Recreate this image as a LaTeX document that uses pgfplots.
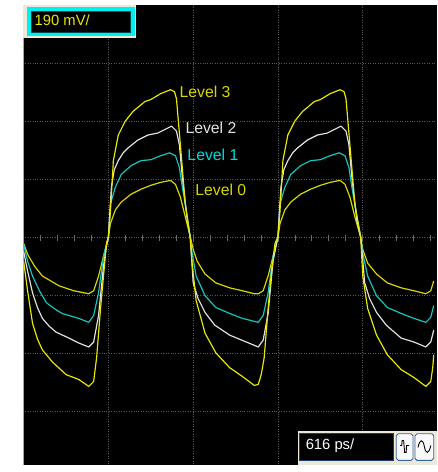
\documentclass[border=0pt]{standalone}
\usepackage{pgfplots}
\pgfplotsset{compat=1.18}
\usepackage{fontspec}
\setmainfont{Liberation Sans}
\definecolor{scy}{HTML}{E8E800}
\definecolor{scy0}{HTML}{D8D800}
\definecolor{scw}{HTML}{E2E2E2}
\definecolor{scc}{HTML}{10C8C0}
\definecolor{lcy}{HTML}{D6D600}
\definecolor{lcc}{HTML}{00DCDC}
\definecolor{beige}{HTML}{ECE9D8}
\definecolor{navy}{HTML}{1C3C78}
\definecolor{btnb}{HTML}{3A64A8}
\definecolor{gridc}{HTML}{5A5A5A}
\definecolor{brcyan}{HTML}{00F0F0}
\begin{document}
\begin{tikzpicture}
\fill[white] (-23bp,0) rectangle (420bp,472bp);
\begin{axis}[name=ax, at={(0,0)}, anchor=south west, scale only axis,
  width=420bp, height=467bp, xmin=23, xmax=443, ymin=5, ymax=472, y dir=reverse,
  axis line style={draw=none}, xtick={110,196,282,368},
  ytick={64.6,123.3,182,299.7,358.4,417}, xticklabels={}, yticklabels={},
  major tick length=0pt, grid=major,
  major grid style={color=gridc, line width=0.8bp, dash pattern=on 1bp off 1.5bp},
  axis background/.style={fill=black}, clip=false,
  every axis plot/.append style={line width=1.2bp, line join=round}]
% center line with ticks
\draw[gridc, line width=0.8bp, dash pattern=on 1bp off 1.5bp] (axis cs:23,241) -- (axis cs:443,241);
\pgfplotsinvokeforeach{0,...,24}{\draw[gridc!90!white, line width=0.8bp] (axis cs:{24+17.2*#1},238) -- (axis cs:{24+17.2*#1},244);}
\draw[gray!70, line width=1bp] (axis cs:23.5,5) -- (axis cs:23.5,472);
% Level 0
\addplot[scy0] coordinates {(24,247) (28,258) (35,270) (43,280) (60,290) (75,295) (90,298) (95,295) (100,280) (105,260) (110,241)
 (112,227) (117,213) (123,205) (133,197) (143,192) (153,188) (163,185) (173,183) (178,187) (183,200) (188,220) (193,240)
 (196,253) (200,265) (208,278) (219,287) (233,292) (246,295) (258,298) (262,298) (267,295) (272,280) (277,260) (282,241)
 (284,227) (289,213) (295,205) (305,197) (315,192) (325,188) (335,185) (345,183) (350,187) (355,200) (360,220) (366,241)
 (368,253) (373,267) (382,278) (393,287) (407,292) (420,295) (432,298) (437,295) (440,285)};
% Level 1
\addplot[scc] coordinates {(24,248) (28,265) (33,280) (40,295) (47,307) (55,313) (63,318) (80,323) (90,327) (95,320) (100,297) (105,260) (108,248) (110,240)
 (112,207) (117,190) (123,177) (133,168) (143,163) (153,162) (163,158) (172,155) (178,158) (182,170) (185,190) (190,220) (193,241)
 (195,257) (199,280) (208,300) (219,312) (233,318) (246,323) (262,327) (267,320) (272,297) (277,260) (280,248) (282,240)
 (284,207) (289,190) (295,177) (305,168) (315,163) (325,162) (335,158) (344,155) (350,158) (354,170) (357,190) (362,220) (366,241)
 (368,257) (373,280) (382,300) (393,312) (407,318) (420,323) (432,327) (437,322) (440,310)};
% Level 2
\addplot[scw] coordinates {(24,255) (28,275) (33,297) (38,312) (43,323) (50,331) (57,337) (70,343) (80,348) (90,352) (95,347) (100,320) (105,270) (108,250) (110,240)
 (113,190) (116,172) (120,163) (125,155) (130,150) (140,142) (150,137) (160,135) (170,130) (174,128) (179,133) (182,147) (185,180) (190,223) (193,241)
 (196,287) (201,303) (208,317) (218,330) (233,340) (250,347) (262,352) (267,345) (272,318) (277,265) (280,250) (282,240)
 (285,190) (288,172) (292,163) (297,155) (302,150) (312,142) (322,137) (332,135) (342,130) (346,128) (351,133) (354,147) (357,180) (362,223) (366,241)
 (370,287) (375,303) (382,317) (392,330) (407,343) (420,347) (432,352) (437,347) (440,335)};
% Level 3
\addplot[scy] coordinates {(24,265) (28,295) (33,328) (38,344) (43,355) (53,367) (67,380) (80,385) (90,392) (95,387) (98,363) (102,313) (105,280) (108,247) (110,240)
 (112,215) (115,163) (120,137) (127,123) (135,113) (147,103) (153,101) (163,95) (173,91) (177,93) (179,100) (183,147) (188,207) (193,241)
 (195,268) (199,305) (208,338) (219,358) (233,373) (246,382) (258,391) (262,390) (265,380) (268,363) (272,313) (275,280) (279,247) (282,240)
 (284,215) (287,163) (292,137) (299,123) (307,113) (319,103) (325,101) (335,95) (345,91) (349,93) (351,100) (355,147) (360,207) (366,241)
 (368,280) (373,313) (382,340) (393,360) (407,375) (420,383) (432,392) (437,387) (439,373) (440,360)};
% labels
\node[anchor=west, inner sep=0pt, text=lcy, font=\fontsize{16bp}{19bp}\selectfont] at (axis cs:182,93) {Level 3};
\node[anchor=west, inner sep=0pt, text=scw, font=\fontsize{16bp}{19bp}\selectfont] at (axis cs:188,130) {Level 2};
\node[anchor=west, inner sep=0pt, text=lcc, font=\fontsize{16bp}{19bp}\selectfont] at (axis cs:190,157) {Level 1};
\node[anchor=west, inner sep=0pt, text=lcy, font=\fontsize{16bp}{19bp}\selectfont] at (axis cs:198,193) {Level 0};
% top-left scale box
\fill[beige] (axis cs:23,5) rectangle (axis cs:138,39);
\fill[brcyan] (axis cs:27,7) rectangle (axis cs:137,37);
\fill[teal!60!black] (axis cs:31,11) rectangle (axis cs:133,33);
\fill[black] (axis cs:32,12) rectangle (axis cs:132,32);
\node[anchor=west, inner sep=0pt, text=scy, font=\fontsize{15bp}{18bp}\selectfont] at (axis cs:35,21) {190 mV/};
% bottom panel
\fill[beige] (axis cs:302,437) rectangle (axis cs:443,472);
\fill[black] (axis cs:303,439) rectangle (axis cs:400,468);
\draw[navy, line width=1.2bp] (axis cs:303.5,439.5) rectangle (axis cs:399.5,467.5);
\node[anchor=west, inner sep=0pt, text=white, font=\fontsize{15bp}{18bp}\selectfont] at (axis cs:310,452) {616 ps/};
\draw[btnb, fill=white!95!gray, rounded corners=2bp, line width=0.9bp] (axis cs:402,440) rectangle (axis cs:419,467);
\draw[btnb, fill=white!95!gray, rounded corners=2bp, line width=0.9bp] (axis cs:421,440) rectangle (axis cs:440,467);
\draw[black, line width=0.9bp] (axis cs:406,452) -- (axis cs:407.5,452) -- (axis cs:408,447) -- (axis cs:409.5,447) -- (axis cs:410.5,459) -- (axis cs:412,459) -- (axis cs:412.5,452) -- (axis cs:415,452);
\draw[black, line width=0.9bp] (axis cs:424,454) .. controls (axis cs:426,445) and (axis cs:429,445) .. (axis cs:430.5,453) .. controls (axis cs:432,461) and (axis cs:435,461) .. (axis cs:437,452);
\end{axis}
\end{tikzpicture}
\end{document}
